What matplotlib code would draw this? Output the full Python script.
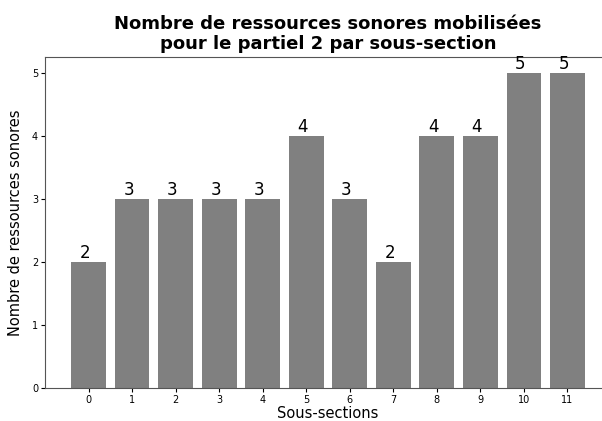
import matplotlib
matplotlib.use("Agg")
import matplotlib.pyplot as plt

sections = list(range(12))
counts = [2, 3, 3, 3, 3, 4, 3, 2, 4, 4, 5, 5]

fig = plt.figure(figsize=(6.02, 4.21), dpi=100)
ax = fig.add_axes([45/602, 1-388/421, (611-45)/602, (388-57)/421])
ax.bar(sections, counts, width=0.8, color='#808080')
for x, v in zip(sections, counts):
    ax.text(x - 0.2, v + 0.0, str(v), fontsize=12, ha='left', va='bottom')
ax.set_xlim(-1, 12)
ax.set_ylim(0, 5.25)
ax.set_xticks(sections)
ax.set_yticks(range(6))
ax.tick_params(labelsize=7, length=3, pad=2)
ax.set_xlabel('Sous-sections', fontsize=10.5, labelpad=1)
ax.set_ylabel('Nombre de ressources sonores', fontsize=10.5, labelpad=6)
ax.set_title('Nombre de ressources sonores mobilisées\npour le partiel 2 par sous-section',
             fontsize=13, fontweight='bold', linespacing=1.15, pad=6)
for s in ax.spines.values():
    s.set_color('#555555')
fig.savefig('out.png', dpi=100)
